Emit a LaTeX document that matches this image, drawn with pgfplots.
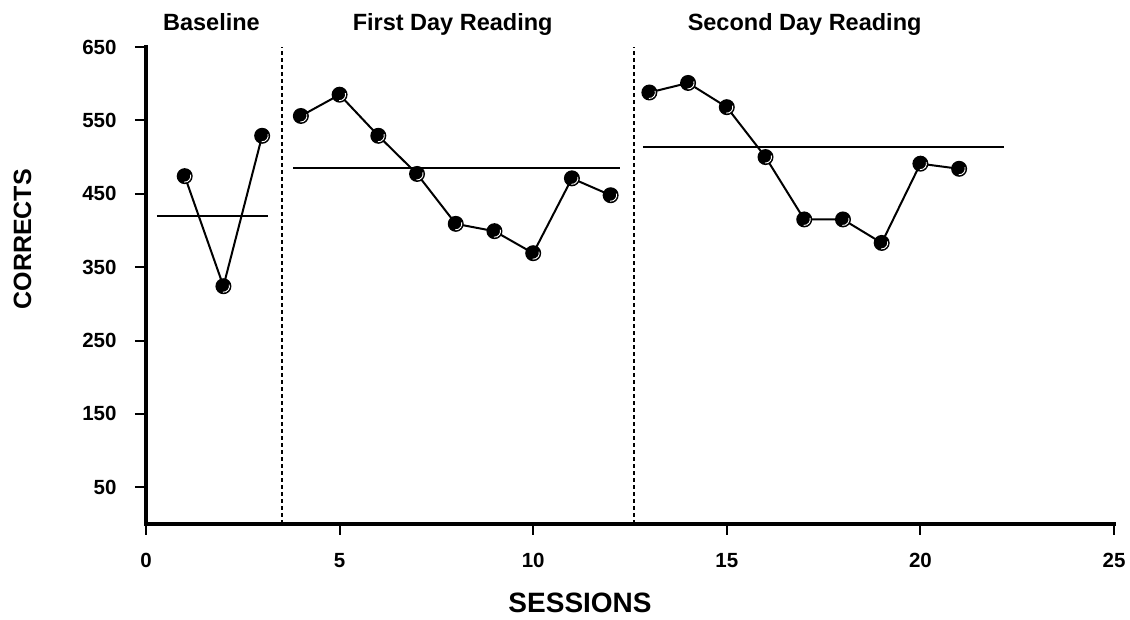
\documentclass[border=0pt]{standalone}
\usepackage{pgfplots}
\pgfplotsset{compat=1.18}
\usepackage{fontspec}
\setmainfont{Liberation Sans}
\pgfdeclareplotmark{shadeddot}{%
  \pgfpathcircle{\pgfpoint{0pt}{0pt}}{8pt}%
  \pgfsetfillcolor{black}\pgfusepathqfill
  \pgfsetstrokecolor{white}\pgfsetlinewidth{0.9pt}%
  \pgfpathmoveto{\pgfpointpolar{-95}{6pt}}%
  \pgfpatharc{-95}{15}{6pt}%
  \pgfusepathqstroke
}
\begin{document}
\begin{tikzpicture}
\begin{axis}[
  scale only axis, width=968pt, height=477pt,
  xmin=0, xmax=25, ymin=0, ymax=650,
  axis x line=bottom, axis y line=left,
  axis line style={-, line width=4.2pt, line cap=rect},
  xtick={0,5,10,15,20,25},
  ytick={50,150,250,350,450,550,650},
  tick align=outside,
  major tick length=11pt,
  tick style={black, line width=2pt},
  every tick label/.append style={font=\fontsize{20.5}{24}\selectfont\bfseries},
  yticklabel={\pgfmathprintnumber{\tick}\rule{15pt}{0pt}},
  xticklabel={\rule{0pt}{29pt}\pgfmathprintnumber{\tick}},
  /pgf/number format/assume math mode=true,
  clip=false,
]
% phase change lines
\addplot[black, line width=2pt, dash pattern=on 4pt off 3pt] coordinates {(3.5,0) (3.5,650)};
\addplot[black, line width=2pt, dash pattern=on 4pt off 3pt] coordinates {(12.6,0) (12.6,650)};
% mean lines
\addplot[black, line width=2pt] coordinates {(0.28,420) (3.16,420)};
\addplot[black, line width=2pt] coordinates {(3.8,485) (12.25,485)};
\addplot[black, line width=2pt] coordinates {(12.83,514) (22.17,514)};
% data
\addplot[black, line width=2pt, mark=shadeddot] coordinates {
(1,474) (2,324) (3,529)};
\addplot[black, line width=2pt, mark=shadeddot] coordinates {
(4,556) (5,585) (6,529) (7,477) (8,409) (9,399) (10,369) (11,471) (12,448)};
\addplot[black, line width=2pt, mark=shadeddot] coordinates {
(13,588) (14,601) (15,568) (16,500) (17,415) (18,415) (19,383) (20,491) (21,484)};
% titles
\node[anchor=base, font=\fontsize{23.5}{28}\selectfont\bfseries] at (axis cs:1.69,672) {Baseline};
\node[anchor=base, font=\fontsize{23.5}{28}\selectfont\bfseries] at (axis cs:7.92,672) {First Day Reading};
\node[anchor=base, font=\fontsize{23.5}{28}\selectfont\bfseries] at (axis cs:17.01,672) {Second Day Reading};
\node[anchor=base, font=\fontsize{28}{32}\selectfont\bfseries] at (axis cs:11.21,-121) {SESSIONS};
\node[rotate=90, anchor=center, font=\fontsize{25}{30}\selectfont\bfseries] at (axis cs:-3.19,388) {CORRECTS};
\end{axis}
\pgfresetboundingbox
\path (-146pt,-96pt) rectangle (984pt,524pt);
\end{tikzpicture}
\end{document}
